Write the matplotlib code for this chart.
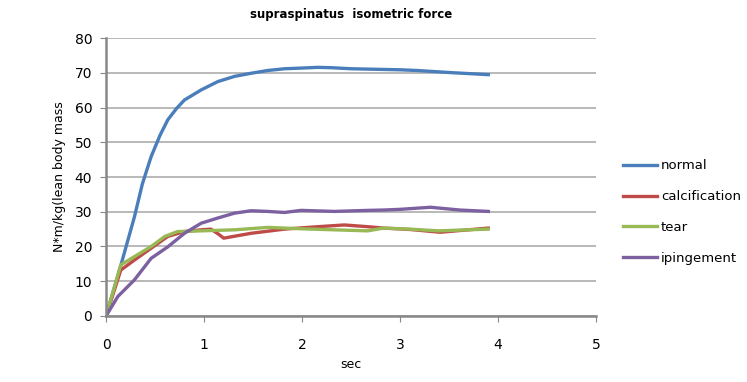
import matplotlib.pyplot as plt
import numpy as np

# values
normal_x = [0, 0.15, 0.29, 0.37, 0.46, 0.55, 0.63, 0.72, 0.80, 0.97, 1.14, 1.31, 1.48, 1.65, 1.82, 2.0, 2.16, 2.3, 2.5, 2.83, 3.0, 3.17, 3.51, 3.9]
normal_y = [0, 14.5, 28.6, 38.0, 45.9, 52.0, 56.5, 59.8, 62.2, 65.1, 67.5, 69.0, 69.9, 70.7, 71.2, 71.4, 71.6, 71.5, 71.2, 71.0, 70.9, 70.7, 70.1, 69.5]

calc_x = [0, 0.15, 0.29, 0.46, 0.63, 0.80, 0.97, 1.07, 1.15, 1.2, 1.48, 1.82, 2.16, 2.43, 2.67, 2.83, 3.1, 3.41, 3.9]
calc_y = [0, 13.2, 16.1, 19.5, 22.9, 24.3, 24.8, 25.0, 23.5, 22.4, 23.8, 25.0, 25.7, 26.2, 25.7, 25.3, 24.9, 24.1, 25.3]

tear_x = [0, 0.15, 0.29, 0.46, 0.6, 0.73, 0.97, 1.31, 1.65, 1.99, 2.33, 2.67, 2.83, 3.1, 3.39, 3.9]
tear_y = [0, 14.7, 17.1, 20.0, 22.9, 24.3, 24.5, 24.8, 25.5, 25.1, 24.8, 24.5, 25.3, 25.0, 24.5, 25.0]

ip_x = [0, 0.12, 0.29, 0.46, 0.63, 0.80, 0.97, 1.14, 1.31, 1.48, 1.65, 1.82, 1.99, 2.33, 2.67, 2.83, 3.0, 3.31, 3.61, 3.9]
ip_y = [0, 5.6, 10.4, 16.6, 19.9, 23.8, 26.7, 28.2, 29.6, 30.3, 30.1, 29.8, 30.4, 30.1, 30.4, 30.5, 30.7, 31.3, 30.5, 30.1]

labels = ["normal", "calcification", "tear", "ipingement"]
colors = ["#4A7EBB", "#BE4B48", "#98B954", "#7D60A0"]

fig = plt.figure(figsize=(7.47, 3.82), dpi=100)
ax = fig.add_axes([0.142, 0.173, 0.656, 0.727])

series = [(normal_x, normal_y), (calc_x, calc_y), (tear_x, tear_y), (ip_x, ip_y)]
for (xs, ys), lab, c in zip(series, labels, colors):
	ax.plot(xs, ys, color=c, lw=2.4, label=lab, solid_joinstyle="round")

ax.set_xlim(0, 5)
ax.set_ylim(0, 80)
ax.set_xticks(range(0, 6))
ax.set_yticks(range(0, 81, 10))
ax.yaxis.grid(True, color="#A6A6A6", lw=1.1)
ax.set_axisbelow(True)
for s in ["top", "right"]:
	ax.spines[s].set_visible(False)
for s in ["left", "bottom"]:
	ax.spines[s].set_color("#888888")
	ax.spines[s].set_linewidth(1.8)
ax.tick_params(axis="x", direction="out", length=4, color="#888888", pad=12, labelsize=10)
ax.tick_params(axis="y", direction="out", length=4, color="#888888", pad=6, labelsize=10)

ax.set_xlabel("sec", fontsize=9, labelpad=4)
ax.set_ylabel("N*m/kg(lean body mass", fontsize=9, labelpad=6)
fig.text(0.47, 0.962, "supraspinatus  isometric force", ha="center", va="center", fontsize=8.5, fontweight="bold")

ax.legend(loc="center left", bbox_to_anchor=(1.03, 0.374), frameon=False, fontsize=9.5,
	handlelength=2.6, handletextpad=0.3, labelspacing=1.35)

fig.savefig("out.png", dpi=100)
